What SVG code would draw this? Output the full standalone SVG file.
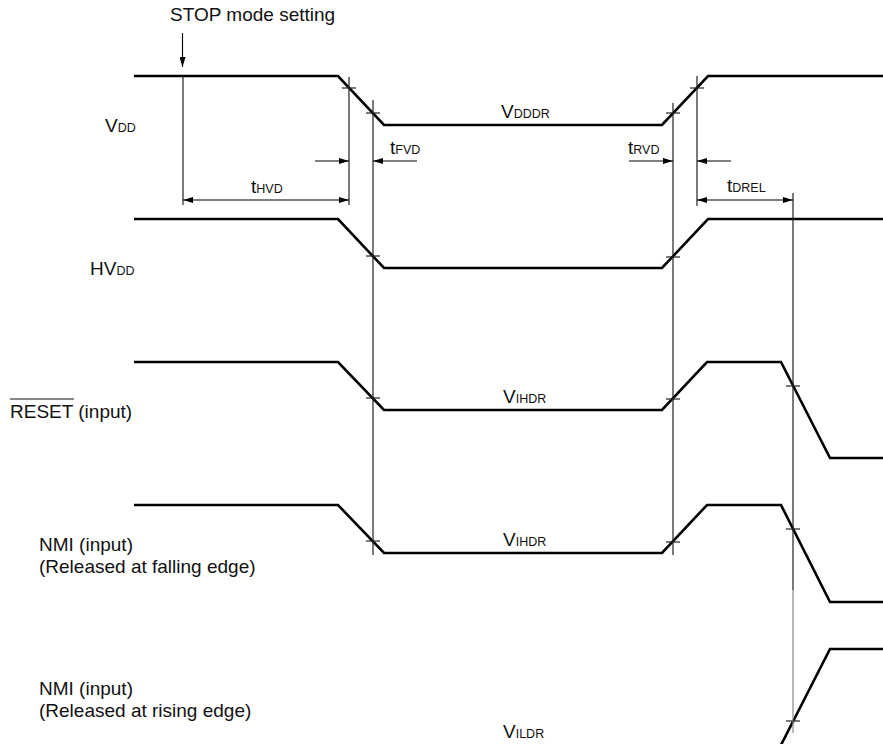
<svg xmlns="http://www.w3.org/2000/svg" width="883" height="744" viewBox="0 0 883 744">
<defs>
<marker id="ah" viewBox="0 0 10 6" refX="10" refY="3" markerWidth="10" markerHeight="6" markerUnits="userSpaceOnUse" orient="auto-start-reverse">
<path d="M0,0 L10,3 L0,6 Z" fill="#000"/>
</marker>
</defs>
<style>
text{font-family:"Liberation Sans",Arial,sans-serif;font-size:19px;fill:#111}
.s{font-size:12.5px}
.w{fill:none;stroke:#000;stroke-width:2.6;stroke-linejoin:miter}
.v{stroke:#222;stroke-width:1.2}
.t{stroke:#222;stroke-width:1.2}
.d{stroke:#000;stroke-width:1.1}
</style>
<rect width="883" height="744" fill="#fff"/>

<g id="labels">
<text x="170" y="21">STOP mode setting</text>
<text x="105" y="132">V<tspan class="s">DD</tspan></text>
<text x="90" y="275">HV<tspan class="s">DD</tspan></text>
<text x="10" y="418">RESET (input)</text>
<line x1="10" y1="399" x2="74" y2="399" stroke="#111" stroke-width="1"/>
<text x="39" y="551">NMI (input)</text>
<text x="39" y="573">(Released at falling edge)</text>
<text x="39" y="695">NMI (input)</text>
<text x="39" y="717">(Released at rising edge)</text>
</g>

<g id="vdd">
<polyline class="w" points="134,76 338,76 384,125 662,125 708,76 883,76"/>
<text x="501" y="118">V<tspan class="s">DDDR</tspan></text>
<line class="t" x1="342" y1="88" x2="356" y2="88"/>
<line class="t" x1="366" y1="113" x2="380" y2="113"/>
<line class="t" x1="666" y1="113" x2="680" y2="113"/>
<line class="t" x1="690" y1="88" x2="704" y2="88"/>
</g>

<g id="hvdd">
<polyline class="w" points="134,219 338,219 384,268 662,268 708,219 883,219"/>
<line class="t" x1="366" y1="256" x2="380" y2="256"/>
<line class="t" x1="666" y1="257" x2="680" y2="257"/>
</g>

<g id="reset">
<polyline class="w" points="134,362 338,362 384,410 662,410 707,362 781,362 830,458 883,458"/>
<text x="503" y="403">V<tspan class="s">IHDR</tspan></text>
<line class="t" x1="366" y1="398" x2="380" y2="398"/>
<line class="t" x1="666" y1="399" x2="680" y2="399"/>
<line class="t" x1="786" y1="386" x2="800" y2="386"/>
</g>

<g id="nmi-falling">
<polyline class="w" points="134,505 338,505 384,553 662,553 707,505 781,505 830,602 883,602"/>
<text x="503" y="546">V<tspan class="s">IHDR</tspan></text>
<line class="t" x1="366" y1="541" x2="380" y2="541"/>
<line class="t" x1="666" y1="542" x2="680" y2="542"/>
<line class="t" x1="786" y1="529" x2="800" y2="529"/>
</g>

<g id="nmi-rising">
<polyline class="w" points="781,745 830,649 883,649"/>
<text x="503" y="738">V<tspan class="s">ILDR</tspan></text>
<line class="t" x1="786" y1="721" x2="800" y2="721"/>
</g>

<g id="connectors">
<line class="d" x1="182.5" y1="33" x2="182.5" y2="67" marker-end="url(#ah)"/>
<line class="v" x1="183" y1="76" x2="183" y2="205"/>
<line class="v" x1="349" y1="77" x2="349" y2="205"/>
<line class="v" x1="373" y1="100" x2="373" y2="555"/>
<line class="v" x1="673" y1="103" x2="673" y2="555"/>
<line class="v" x1="697" y1="76" x2="697" y2="206"/>
<line class="v" x1="793" y1="193" x2="793" y2="590"/>
<line x1="793" y1="590" x2="793" y2="733" stroke="#888" stroke-width="1.2"/>
<line class="d" x1="315" y1="161" x2="349" y2="161" marker-end="url(#ah)"/>
<line class="d" x1="417" y1="161" x2="373" y2="161" marker-end="url(#ah)"/>
<line class="d" x1="629" y1="161" x2="673" y2="161" marker-end="url(#ah)"/>
<line class="d" x1="731" y1="161" x2="697" y2="161" marker-end="url(#ah)"/>
<line class="d" x1="183" y1="200" x2="349" y2="200" marker-start="url(#ah)" marker-end="url(#ah)"/>
<line class="d" x1="697" y1="200" x2="793" y2="200" marker-start="url(#ah)" marker-end="url(#ah)"/>
<text x="390" y="154">t<tspan class="s">FVD</tspan></text>
<text x="251" y="193">t<tspan class="s">HVD</tspan></text>
<text x="628" y="154">t<tspan class="s">RVD</tspan></text>
<text x="727" y="192">t<tspan class="s">DREL</tspan></text>
</g>
</svg>
